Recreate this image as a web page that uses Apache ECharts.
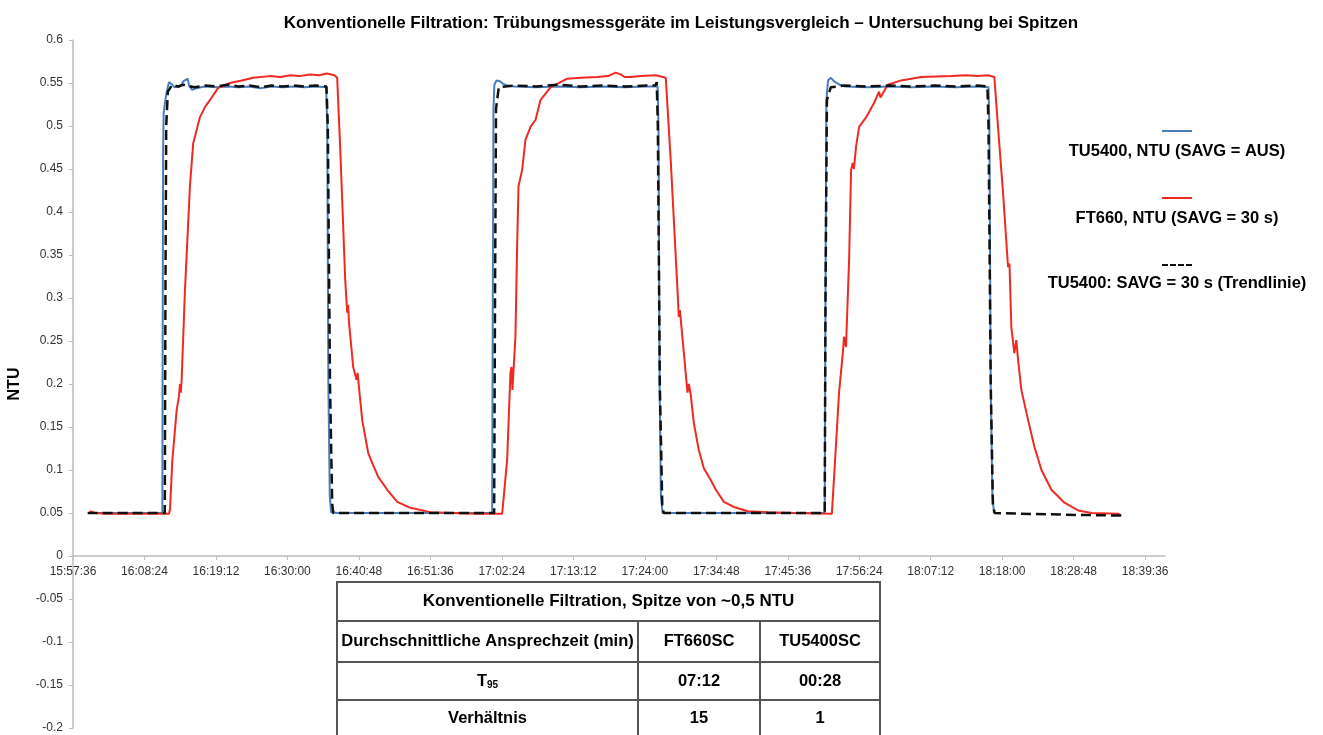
<!DOCTYPE html>
<html>
<head>
<meta charset="utf-8">
<title>Trübungsmessgeräte im Leistungsvergleich</title>
<script src="https://cdn.jsdelivr.net/npm/echarts@6/dist/echarts.min.js"></script>
<style>
	html,body{margin:0;padding:0;background:#fff;}
	#chart{width:1323px;height:735px;}
</style>
</head>
<body>
<div id="chart"></div>
<script>
// Zeitachse: Sekunden ab 15:57:36
var startSec = 15*3600 + 57*60 + 36;
var xTickLabels = ['15:57:36','16:08:24','16:19:12','16:30:00','16:40:48','16:51:36','17:02:24','17:13:12',
	'17:24:00','17:34:48','17:45:36','17:56:24','18:07:12','18:18:00','18:28:48','18:39:36'];
var tickStep = 648;

// TU5400, NTU (SAVG = AUS)
var tu5400Raw = [
	[152,0.050],[400,0.050],[700,0.050],[810,0.050],[814,0.300],[817,0.470],[822,0.515],[835,0.528],[850,0.540],
	[870,0.551],[885,0.550],[900,0.548],[920,0.545],[940,0.546],[960,0.545],[985,0.548],[1000,0.552],[1040,0.555],
	[1055,0.546],[1080,0.542],[1120,0.544],[1160,0.545],[1200,0.546],[1300,0.545],[1400,0.546],[1500,0.545],
	[1600,0.546],[1700,0.544],[1800,0.546],[1900,0.545],[2000,0.546],[2100,0.545],[2200,0.546],[2295,0.545],
	[2305,0.500],[2315,0.200],[2328,0.070],[2340,0.051],[2400,0.050],[3000,0.050],[3500,0.050],[3800,0.050],
	[3806,0.300],[3812,0.520],[3820,0.548],[3840,0.553],[3870,0.552],[3900,0.549],[3940,0.547],[4000,0.546],
	[4200,0.545],[4400,0.546],[4600,0.545],[4800,0.546],[5000,0.545],[5200,0.546],[5300,0.546],[5308,0.500],
	[5318,0.200],[5330,0.070],[5345,0.050],[6000,0.050],[6500,0.050],[6815,0.050],[6822,0.300],[6830,0.530],
	[6845,0.553],[6870,0.556],[6900,0.552],[6950,0.548],[7000,0.546],[7200,0.545],[7400,0.546],[7600,0.545],
	[7800,0.546],[8000,0.545],[8200,0.546],[8300,0.545],[8308,0.500],[8320,0.200],[8335,0.070],[8350,0.050]
];

// FT660, NTU (SAVG = 30 s)
var ft660Raw = [
	[152,0.052],[200,0.050],[300,0.049],[500,0.049],[700,0.049],[870,0.049],[880,0.055],[900,0.110],[940,0.170],
	[960,0.185],[970,0.200],[978,0.190],[985,0.205],[1014,0.306],[1060,0.430],[1090,0.480],[1150,0.510],
	[1196,0.522],[1241,0.530],[1314,0.544],[1423,0.550],[1530,0.553],[1632,0.556],[1786,0.558],[1880,0.557],
	[1968,0.559],[2050,0.558],[2150,0.560],[2230,0.559],[2300,0.561],[2370,0.559],[2395,0.556],[2422,0.476],
	[2468,0.321],[2486,0.283],[2494,0.292],[2502,0.272],[2540,0.220],[2570,0.205],[2580,0.213],[2622,0.158],
	[2676,0.120],[2700,0.112],[2767,0.092],[2849,0.077],[2940,0.063],[3058,0.056],[3240,0.051],[3450,0.050],
	[3650,0.049],[3891,0.049],[3936,0.112],[3966,0.213],[3975,0.220],[3984,0.193],[4011,0.255],[4027,0.364],
	[4039,0.430],[4072,0.449],[4102,0.484],[4148,0.499],[4193,0.507],[4238,0.530],[4329,0.545],[4481,0.555],
	[4600,0.556],[4754,0.557],[4850,0.558],[4920,0.562],[4965,0.560],[5000,0.557],[5056,0.557],[5150,0.558],
	[5283,0.559],[5374,0.556],[5419,0.460],[5480,0.310],[5492,0.278],[5502,0.286],[5571,0.190],[5583,0.200],
	[5600,0.188],[5628,0.155],[5674,0.123],[5719,0.102],[5783,0.088],[5828,0.077],[5901,0.063],[5991,0.057],
	[6119,0.052],[6300,0.051],[6536,0.050],[6880,0.049],[6918,0.131],[6945,0.190],[6979,0.236],[6990,0.255],
	[7008,0.243],[7036,0.344],[7054,0.449],[7069,0.457],[7080,0.450],[7099,0.476],[7127,0.499],[7190,0.510],
	[7263,0.527],[7308,0.540],[7320,0.533],[7387,0.548],[7508,0.553],[7690,0.557],[7962,0.558],[8100,0.559],
	[8200,0.558],[8295,0.559],[8353,0.557],[8386,0.499],[8432,0.422],[8477,0.336],[8490,0.340],[8507,0.266],
	[8534,0.236],[8552,0.251],[8568,0.228],[8598,0.193],[8659,0.158],[8716,0.127],[8780,0.100],[8870,0.077],
	[8988,0.062],[9113,0.053],[9234,0.050],[9476,0.049],[9506,0.047]
];

// TU5400: SAVG = 30 s (Trendlinie)
var trendRaw = [
	[133,0.050],[400,0.050],[700,0.050],[832,0.050],[838,0.300],[845,0.500],[860,0.540],[900,0.548],[950,0.546],
	[1000,0.548],[1100,0.545],[1200,0.547],[1300,0.546],[1400,0.548],[1500,0.546],[1600,0.547],[1700,0.545],
	[1800,0.547],[1900,0.546],[2000,0.547],[2100,0.546],[2200,0.547],[2298,0.546],[2310,0.500],[2330,0.200],
	[2350,0.060],[2360,0.050],[3000,0.050],[3500,0.050],[3818,0.050],[3826,0.300],[3835,0.520],[3860,0.545],
	[3993,0.547],[4200,0.546],[4400,0.548],[4600,0.546],[4800,0.547],[5000,0.546],[5200,0.547],[5280,0.547],
	[5292,0.551],[5302,0.500],[5320,0.200],[5342,0.060],[5355,0.050],[6000,0.050],[6500,0.050],[6815,0.050],
	[6822,0.300],[6835,0.530],[6870,0.545],[6990,0.547],[7200,0.546],[7400,0.547],[7600,0.546],[7800,0.547],
	[8000,0.546],[8200,0.547],[8290,0.546],[8300,0.500],[8320,0.200],[8340,0.060],[8355,0.050],[9000,0.048],
	[9506,0.047]
];

// Tabelle
var tableTitle = 'Konventionelle Filtration, Spitze von ~0,5 NTU';
var tableHead = ['Durchschnittliche Ansprechzeit (min)', 'FT660SC', 'TU5400SC'];
var tableT95 = ['T95', '07:12', '00:28'];
var tableRatio = ['Verhältnis', '15', '1'];

var seriesNames = ['TU5400, NTU (SAVG = AUS)', 'FT660, NTU (SAVG = 30 s)', 'TU5400: SAVG = 30 s (Trendlinie)'];

var FONT = '"Liberation Sans", Arial, sans-serif';

drawChart();

function pad(n){
	return n < 10 ? '0' + n : '' + n;
}
function secToTime(v){
	var t = Math.round(startSec + v);
	return Math.floor(t/3600) + ':' + pad(Math.floor(t%3600/60)) + ':' + pad(t%60);
}

function buildTable(){
	var colX = [337, 638, 760, 880];
	var rowY = [582, 621, 662, 700, 742];
	var font = 'bold 16.5px ' + FONT;
	var els = [];
	els.push({type:'rect', shape:{x:colX[0], y:rowY[0], width:colX[3]-colX[0], height:rowY[4]-rowY[0]},
		style:{fill:'#fff', stroke:'#555', lineWidth:2}});
	for (var r = 1; r < 4; r++) {
		els.push({type:'line', shape:{x1:colX[0], y1:rowY[r], x2:colX[3], y2:rowY[r]}, style:{stroke:'#555', lineWidth:2}});
	}
	for (var c = 1; c < 3; c++) {
		els.push({type:'line', shape:{x1:colX[c], y1:rowY[1], x2:colX[c], y2:rowY[4]}, style:{stroke:'#555', lineWidth:2}});
	}
	els.push({type:'text', x:(colX[0]+colX[3])/2, y:(rowY[0]+rowY[1])/2,
		style:{text:tableTitle, font:'bold 17px ' + FONT, fill:'#000', align:'center', verticalAlign:'middle'}});
	var rows = [tableHead, tableT95, tableRatio];
	for (var i = 0; i < rows.length; i++) {
		var cy = (rowY[i+1] + rowY[i+2]) / 2;
		if (i == 2) cy = rowY[3] + 18;
		for (var j = 0; j < 3; j++) {
			var cx = (colX[j] + colX[j+1]) / 2;
			var txt = rows[i][j];
			if (i == 1 && j == 0) {
				els.push({type:'text', x:cx, y:cy, style:{
					text:'{t|T}{s|95}', align:'center', verticalAlign:'middle',
					rich:{t:{font:font, fill:'#000'}, s:{font:'bold 10px ' + FONT, fill:'#000', padding:[9,0,0,0]}}
				}});
			} else {
				els.push({type:'text', x:cx, y:cy, style:{text:txt, font:font, fill:'#000', align:'center', verticalAlign:'middle'}});
			}
		}
	}
	return els;
}

function buildLegend(){
	var font = 'bold 16.5px ' + FONT;
	var cx = 1177;
	var items = [
		{y:131, ty:151, color:'#4a7ebb', dash:null},
		{y:198, ty:218, color:'#ee2a22', dash:null},
		{y:265, ty:283, color:'#111', dash:[6,2]}
	];
	var els = [];
	for (var i = 0; i < items.length; i++) {
		els.push({type:'line', shape:{x1:cx-15, y1:items[i].y, x2:cx+15, y2:items[i].y},
			style:{stroke:items[i].color, lineWidth:2, lineDash:items[i].dash}});
		els.push({type:'text', x:cx, y:items[i].ty,
			style:{text:seriesNames[i], font:font, fill:'#000', align:'center', verticalAlign:'middle'}});
	}
	return els;
}

function drawChart(){
	var myChart = echarts.init(document.getElementById('chart'));
	var xTickValues = xTickLabels.map(function(l, i){ return i * tickStep; });
	var gridTop = 40, gridBottom = 7, yMin = -0.2, yMax = 0.6;
	// Abstand der Nulllinie vom unteren Rand des Diagramms
	var zeroOffset = (735 - gridTop - gridBottom) * (0 - yMin) / (yMax - yMin);
	var option = {
		animation: false,
		backgroundColor: '#fff',
		title: {
			text: 'Konventionelle Filtration: Trübungsmessgeräte im Leistungsvergleich – Untersuchung bei Spitzen',
			left: 676,
			top: 10,
			textAlign: 'center',
			textStyle: {fontSize: 17, fontWeight: 'bold', color: '#000', fontFamily: FONT}
		},
		grid: {left: 73, right: 158, top: gridTop, bottom: gridBottom, containLabel: false, outerBoundsMode: 'none'},
		xAxis: {
			type: 'value',
			min: 0,
			max: 9900,
			interval: tickStep,
			offset: -zeroOffset,
			splitLine: {show: false},
			axisLine: {onZero: false, lineStyle: {color: '#bdbdbd', width: 1.5}},
			axisTick: {customValues: xTickValues, length: 4, lineStyle: {color: '#bdbdbd'}},
			axisLabel: {
				customValues: xTickValues,
				formatter: function(v){ return secToTime(v); },
				color: '#333', fontSize: 12, margin: 10,
				fontFamily: FONT
			}
		},
		yAxis: {
			type: 'value',
			min: yMin,
			max: yMax,
			interval: 0.05,
			name: 'NTU',
			nameLocation: 'middle',
			nameGap: 50,
			nameRotate: 90,
			nameTextStyle: {fontSize: 16, fontWeight: 'bold', color: '#000', fontFamily: FONT},
			splitLine: {show: false},
			axisLine: {show: true, lineStyle: {color: '#bdbdbd', width: 1.5}},
			axisTick: {show: true, length: 4, lineStyle: {color: '#bdbdbd'}},
			axisLabel: {color: '#333', fontSize: 12, margin: 10, fontFamily: FONT}
		},
		series: [
			{
				name: seriesNames[0], type: 'line', data: tu5400Raw, showSymbol: false,
				lineStyle: {color: '#4a7ebb', width: 2}, z: 2
			},
			{
				name: seriesNames[1], type: 'line', data: ft660Raw, showSymbol: false,
				lineStyle: {color: '#ee2a22', width: 2}, z: 3
			},
			{
				name: seriesNames[2], type: 'line', data: trendRaw, showSymbol: false,
				lineStyle: {color: '#111', width: 2.5, type: [10, 5]}, z: 4
			}
		],
		graphic: buildLegend().concat(buildTable())
	};
	myChart.setOption(option);
}
</script>
</body>
</html>
